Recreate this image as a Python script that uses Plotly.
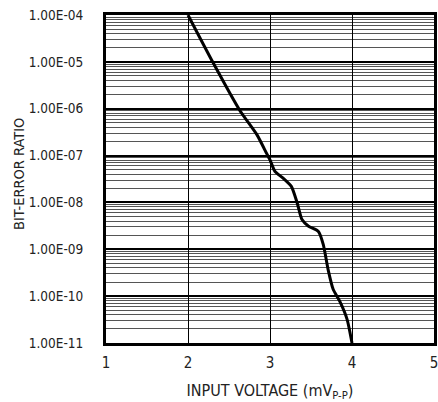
import plotly.graph_objects as go

# Data
input_voltage = [2.0, 2.31, 2.63, 2.84, 2.96, 3.0, 3.06, 3.16, 3.26, 3.33, 3.39, 3.47,
                 3.59, 3.65, 3.71, 3.77, 3.85, 3.94, 4.0]
bit_error_ratio = [1.0e-4, 9.3e-6, 9.3e-7, 2.8e-7, 1.1e-7, 8.1e-8, 4.6e-8, 3.3e-8, 2.2e-8,
                   1.0e-8, 4.3e-9, 3.1e-9, 2.4e-9, 1.26e-9, 3.6e-10, 1.4e-10, 7.8e-11,
                   3.2e-11, 1.0e-11]
y_tick_vals = [1e-11, 1e-10, 1e-9, 1e-8, 1e-7, 1e-6, 1e-5, 1e-4]
y_tick_text = ["1.00E-11", "1.00E-10", "1.00E-09", "1.00E-08", "1.00E-07",
               "1.00E-06", "1.00E-05", "1.00E-04"]
x_tick_vals = [1, 2, 3, 4, 5]

FONT = "DejaVu Sans Condensed, Liberation Sans Narrow, sans-serif"

fig = go.Figure()
fig.add_trace(go.Scatter(
    x=input_voltage, y=bit_error_ratio, mode="lines",
    line=dict(color="black", width=3, shape="spline", smoothing=0.6),
    showlegend=False, hoverinfo="skip",
))

fig.update_layout(
    width=438, height=402,
    margin=dict(l=106, r=4, t=15, b=59),
    paper_bgcolor="white", plot_bgcolor="white",
    font=dict(family=FONT, size=15, color="#222"),
    xaxis=dict(
        range=[1, 5], tickvals=x_tick_vals, ticks="", showgrid=True,
        gridcolor="black", gridwidth=1, automargin=False,
        showline=True, linecolor="black", linewidth=3, mirror=True,
        zeroline=False, ticklabelstandoff=4, ticklabeloverflow="allow",
        tickfont=dict(size=15),
        title=dict(text="INPUT VOLTAGE (mV<sub>P-P</sub>)", standoff=15,
                   font=dict(size=16)),
    ),
    yaxis=dict(
        type="log", range=[-11, -4], tickvals=y_tick_vals, ticktext=y_tick_text,
        ticks="", showgrid=True, gridcolor="black", gridwidth=1.5, automargin=False,
        minor=dict(dtick="D1", showgrid=True, gridcolor="#555", gridwidth=1, ticks=""),
        showline=True, linecolor="black", linewidth=3, mirror=True,
        zeroline=False, ticklabelstandoff=17, tickfont=dict(size=13.5),
    ),
    annotations=[dict(
        text="BIT-ERROR RATIO", textangle=-90, showarrow=False,
        xref="paper", yref="paper", x=0, y=0.5, xanchor="center", yanchor="middle",
        xshift=-87, yshift=5, font=dict(family=FONT, size=14.5, color="#222"),
    )],
)

fig.write_html(
    "out.html",
    config={"displayModeBar": False},
    post_script="document.body.style.margin='0';document.body.style.padding='0';",
)
